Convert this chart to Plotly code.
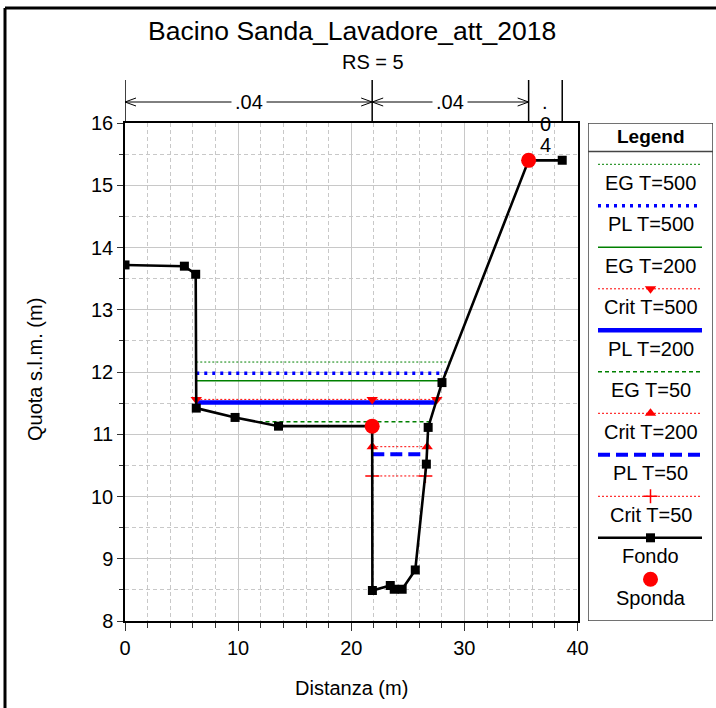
import plotly.graph_objects as go

W, H = 716, 708
FONT = "Liberation Sans, Arial, sans-serif"

# ---------------- data ----------------
fondo_x = [0, 5.25, 6.25, 6.3, 9.73, 13.57, 21.85, 21.87, 23.45, 23.8, 24.5, 25.66, 26.64, 26.8, 28.02, 35.68, 38.65]
fondo_y = [13.72, 13.70, 13.57, 11.42, 11.27, 11.13, 11.13, 8.49, 8.57, 8.51, 8.51, 8.82, 10.52, 11.11, 11.83, 15.40, 15.40]

sponda_x = [21.85, 35.68]
sponda_y = [11.13, 15.40]

eg500_x = [6.3, 28.73]
eg500_y = 12.16
pl500_x = [6.3, 28.34]
pl500_y = 11.98
eg200_x = [6.3, 28.08]
eg200_y = 11.86
crit500_x = [6.3, 21.85, 27.56]
crit500_y = 11.56
pl200_x = [6.3, 27.48]
pl200_y = 11.51
eg50_x = [11.8, 26.95]
eg50_y = 11.20
crit200_x = [21.86, 26.71]
crit200_y = 10.80
pl50_x = [21.86, 26.68]
pl50_y = 10.68
crit50_x = [21.86, 26.55]
crit50_y = 10.33

n_breaks = [0, 21.85, 35.68, 38.65]
n_labels = [".04", ".04", ".04"]

title = "Bacino Sanda_Lavadore_att_2018"
subtitle = "RS = 5"
x_title = "Distanza (m)"
y_title = "Quota s.l.m. (m)"

legend_names = ["EG T=500", "PL T=500", "EG T=200", "Crit T=500", "PL T=200",
                "EG T=50", "Crit T=200", "PL T=50", "Crit T=50", "Fondo", "Sponda"]

# ---------------- styles ----------------
GREEN = "#008000"
BLUE = "#0000ff"
RED = "#ff0000"
RDOT = "2px,2px"
styles = {
    "EG T=500": dict(line=dict(color=GREEN, width=1, dash="2px,2px")),
    "PL T=500": dict(line=dict(color=BLUE, width=3.5, dash="3px,5px")),
    "EG T=200": dict(line=dict(color=GREEN, width=1.5)),
    "Crit T=500": dict(line=dict(color=RED, width=1, dash=RDOT), marker=dict(symbol="triangle-down", size=10, color=RED)),
    "PL T=200": dict(line=dict(color=BLUE, width=4.5)),
    "EG T=50": dict(line=dict(color=GREEN, width=1.5, dash="4px,3px")),
    "Crit T=200": dict(line=dict(color=RED, width=1, dash=RDOT), marker=dict(symbol="triangle-up", size=10, color=RED)),
    "PL T=50": dict(line=dict(color=BLUE, width=4, dash="12px,6px")),
    "Crit T=50": dict(line=dict(color=RED, width=1, dash=RDOT), marker=dict(symbol="cross-thin", size=10, color=RED, line=dict(color=RED, width=1.5))),
    "Fondo": dict(line=dict(color="black", width=2.6), marker=dict(symbol="square", size=9, color="black")),
    "Sponda": dict(marker=dict(symbol="circle", size=15, color=RED)),
}

fig = go.Figure()

def add_ws(name, xs, yv):
    st = styles[name]
    fig.add_trace(go.Scatter(x=[xs[0], xs[-1]], y=[yv, yv], mode="lines", line=st["line"],
                             showlegend=False, hoverinfo="skip"))
    if "marker" in st:
        fig.add_trace(go.Scatter(x=xs, y=[yv] * len(xs), mode="markers", marker=st["marker"],
                                 showlegend=False, hoverinfo="skip"))

add_ws("EG T=500", eg500_x, eg500_y)
add_ws("PL T=500", pl500_x, pl500_y)
add_ws("EG T=200", eg200_x, eg200_y)
add_ws("PL T=200", pl200_x, pl200_y)
add_ws("Crit T=500", crit500_x, crit500_y)
add_ws("EG T=50", eg50_x, eg50_y)
add_ws("Crit T=200", crit200_x, crit200_y)
add_ws("PL T=50", pl50_x, pl50_y)
add_ws("Crit T=50", crit50_x, crit50_y)

fig.add_trace(go.Scatter(x=fondo_x, y=fondo_y, mode="lines+markers", line=styles["Fondo"]["line"],
                         marker=styles["Fondo"]["marker"], showlegend=False, hoverinfo="skip"))
fig.add_trace(go.Scatter(x=sponda_x, y=sponda_y, mode="markers", marker=styles["Sponda"]["marker"],
                         showlegend=False, hoverinfo="skip"))

# ---------------- layout geometry (pixels) ----------------
PL, PR, PT, PB = 125, 577.5, 123, 621
def px_x(p): return p / W
def px_y(p): return 1 - p / H

shapes = []
annotations = []

# Manning n dimension annotations above plot
dim_top = px_y(80)
dim_bot = px_y(PT)
arrow_y = px_y(102)
for xb in n_breaks:
    shapes.append(dict(type="line", xref="x", yref="paper", x0=xb, x1=xb, y0=dim_bot, y1=dim_top,
                       line=dict(color="black", width=1.5)))
for i, lab in enumerate(n_labels):
    a, b = n_breaks[i], n_breaks[i + 1]
    mid = (a + b) / 2
    if (b - a) > 6:
        shapes.append(dict(type="line", xref="x", yref="paper", x0=a, x1=b, y0=arrow_y, y1=arrow_y,
                           line=dict(color="black", width=1)))
        for xa, sgn in ((a, 1), (b, -1)):
            shapes.append(dict(type="path", xref="x", yref="paper", xsizemode="pixel", ysizemode="pixel",
                               xanchor=xa, yanchor=arrow_y,
                               path=f"M {sgn*11},4 L 0,0 L {sgn*11},-4",
                               line=dict(color="black", width=1)))
        annotations.append(dict(x=mid, y=arrow_y, xref="x", yref="paper", text=lab, showarrow=False,
                                font=dict(family=FONT, size=20, color="black"), bgcolor="white",
                                borderpad=3, xanchor="center", yanchor="middle"))
    else:
        for k, ch in enumerate(lab):
            annotations.append(dict(x=mid, y=px_y(102 + 21.5 * k), xref="x", yref="paper", text=ch,
                                    showarrow=False, font=dict(family=FONT, size=20, color="black"),
                                    xanchor="center", yanchor="middle"))

# titles
annotations.append(dict(x=px_x(352), y=px_y(31), xref="paper", yref="paper", text=title, showarrow=False,
                        font=dict(family=FONT, size=26.5, color="black"), xanchor="center", yanchor="middle"))
annotations.append(dict(x=px_x(373), y=px_y(62), xref="paper", yref="paper", text=subtitle, showarrow=False,
                        font=dict(family=FONT, size=20, color="black"), xanchor="center", yanchor="middle"))
annotations.append(dict(x=px_x(351), y=px_y(688), xref="paper", yref="paper", text=x_title, showarrow=False,
                        font=dict(family=FONT, size=20, color="black"), xanchor="center", yanchor="middle"))
annotations.append(dict(x=px_x(35), y=px_y(370), xref="paper", yref="paper", text=y_title, showarrow=False,
                        textangle=-90, font=dict(family=FONT, size=20, color="black"),
                        xanchor="center", yanchor="middle"))

# outer frame (top and left edges visible)
shapes.append(dict(type="line", xref="paper", yref="paper", x0=px_x(5), x1=1.0, y0=px_y(8), y1=px_y(8),
                   line=dict(color="black", width=3)))
shapes.append(dict(type="line", xref="paper", yref="paper", x0=px_x(5), x1=px_x(5), y0=0.0, y1=px_y(8),
                   line=dict(color="black", width=3)))

# ---------------- custom legend panel (axis x2/y2 in pixel units) ----------------
LX0, LX1 = 588, 713
shapes.append(dict(type="rect", xref="x2", yref="y2", x0=LX0, x1=LX1, y0=PT, y1=PB,
                   line=dict(color="#444444", width=1.5), fillcolor="rgba(0,0,0,0)"))
shapes.append(dict(type="line", xref="x2", yref="y2", x0=LX0, x1=LX1, y0=151.5, y1=151.5,
                   line=dict(color="#444444", width=1.5)))
annotations.append(dict(x=650.5, y=136.5, xref="x2", yref="y2", text="<b>Legend</b>", showarrow=False,
                        font=dict(family=FONT, size=19, color="black"), xanchor="center", yanchor="middle"))
step = 41.5
for i, name in enumerate(legend_names):
    ly = 164.3 + i * step
    ty = ly + 18.5
    st = styles[name]
    if "line" in st:
        fig.add_trace(go.Scatter(x=[598, 702], y=[ly, ly], mode="lines", line=st["line"], xaxis="x2", yaxis="y2",
                                 showlegend=False, hoverinfo="skip"))
    if "marker" in st:
        fig.add_trace(go.Scatter(x=[650.5], y=[ly], mode="markers", marker=st["marker"], xaxis="x2", yaxis="y2",
                                 showlegend=False, hoverinfo="skip"))
    annotations.append(dict(x=650.5, y=ty, xref="x2", yref="y2", text=name, showarrow=False,
                            font=dict(family=FONT, size=20, color="black"), xanchor="center", yanchor="middle"))

GRID = "#c8c8c8"
fig.update_layout(
    width=W, height=H, margin=dict(l=0, r=0, t=0, b=0, pad=0, autoexpand=False), autosize=False,
    paper_bgcolor="white", plot_bgcolor="white", showlegend=False,
    font=dict(family=FONT, size=20, color="black"),
    xaxis=dict(domain=[PL / W, PR / W], range=[0, 40], dtick=10, tick0=0, automargin=False,
               showline=True, linecolor="black", linewidth=1.5, mirror=True,
               ticks="outside", ticklen=8, tickcolor="#333333", tickwidth=1,
               showgrid=True, gridcolor=GRID, gridwidth=1, zeroline=False,
               tickfont=dict(family=FONT, size=20, color="black"),
               minor=dict(dtick=2, tick0=0, showgrid=True, gridcolor=GRID, griddash="4px,3px",
                          ticks="outside", ticklen=5, tickcolor="#333333")),
    yaxis=dict(domain=[1 - PB / H, 1 - PT / H], range=[8, 16], dtick=1, tick0=0, automargin=False,
               showline=True, linecolor="black", linewidth=1.5, mirror=True,
               ticks="outside", ticklen=6, tickcolor="#333333", tickwidth=1,
               showgrid=True, gridcolor=GRID, gridwidth=1, zeroline=False,
               tickfont=dict(family=FONT, size=20, color="black"),
               minor=dict(dtick=0.5, tick0=0, showgrid=True, gridcolor=GRID, griddash="4px,3px",
                          ticks="outside", ticklen=4, tickcolor="#333333")),
    xaxis2=dict(domain=[LX0 / W, LX1 / W], range=[LX0, LX1], visible=False, fixedrange=True, anchor="y2"),
    yaxis2=dict(domain=[1 - PB / H, 1 - PT / H], range=[PB, PT], visible=False, fixedrange=True, anchor="x2"),
    shapes=shapes, annotations=annotations,
)

fig.write_html("out.html", config={"displayModeBar": False},
               post_script="document.body.style.margin='0px';document.body.style.overflow='hidden';")
